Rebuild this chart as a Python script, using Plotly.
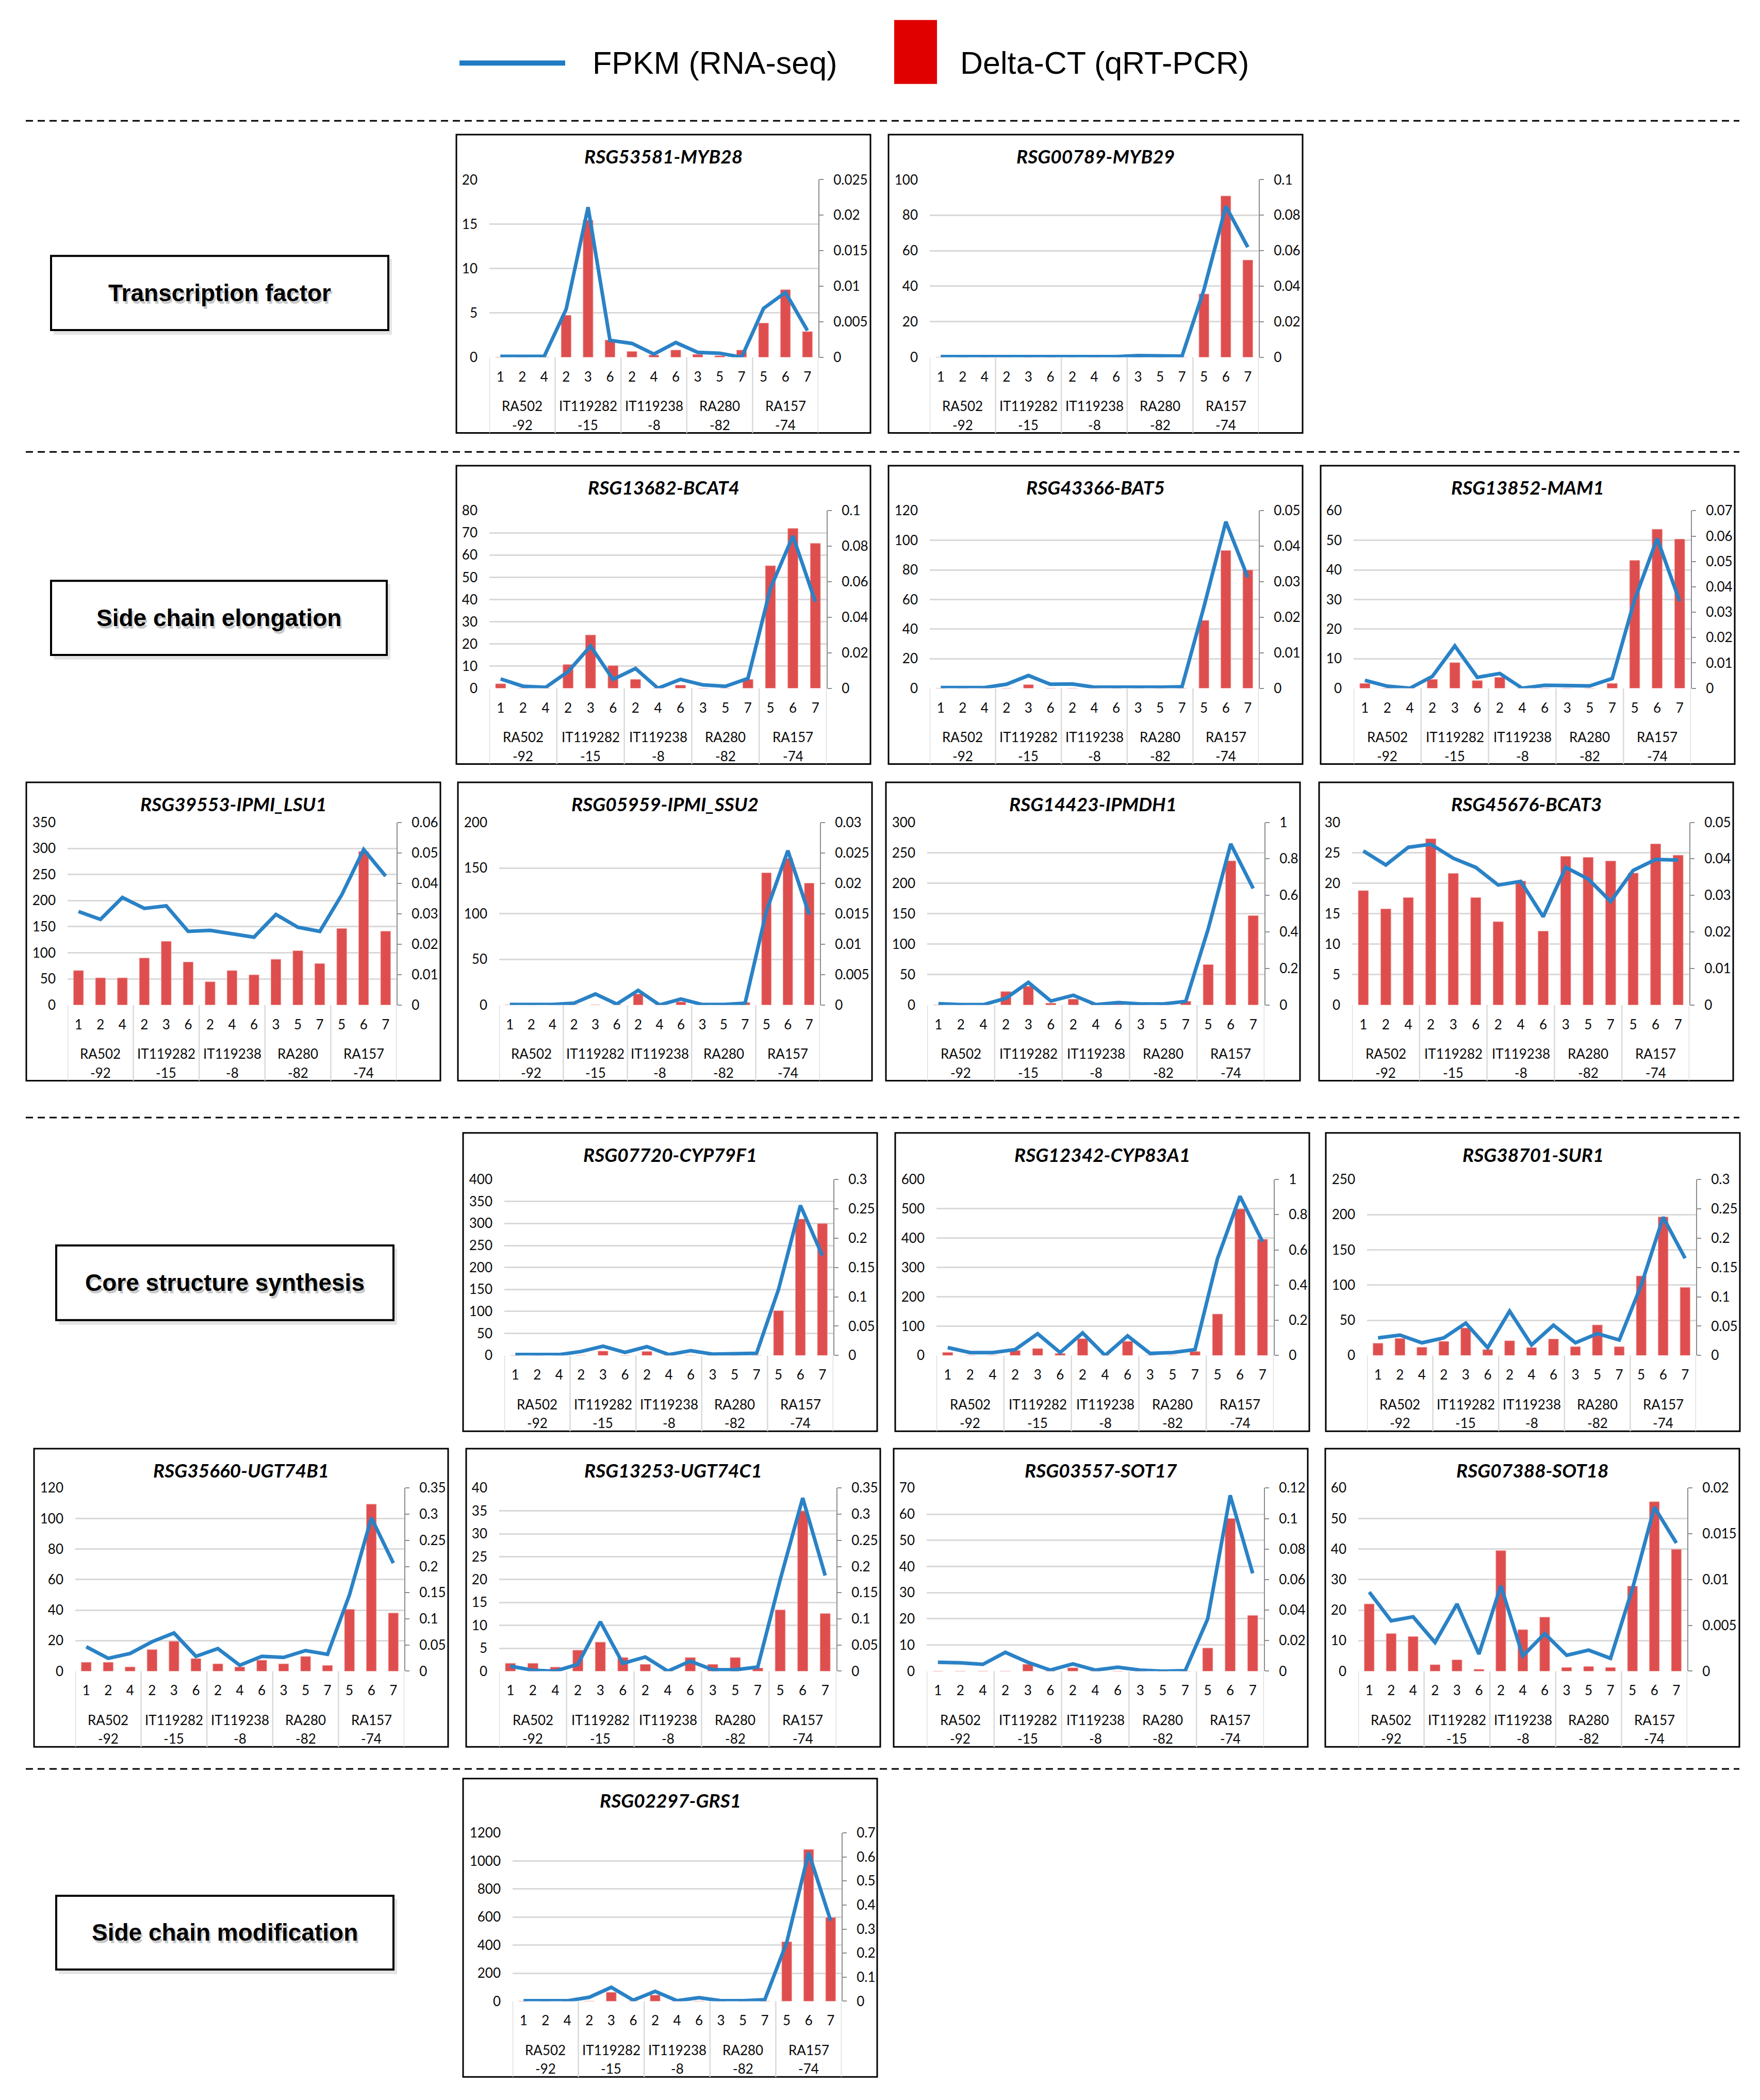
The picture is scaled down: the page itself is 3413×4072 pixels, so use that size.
import plotly.graph_objects as go

W, H = 3413, 4072

# ---------------- data ----------------
samples = ["1", "2", "4", "2", "3", "6", "2", "4", "6", "3", "5", "7", "5", "6", "7"]
group_names = ["RA502", "IT119282", "IT119238", "RA280", "RA157"]
group_codes = ["-92", "-15", "-8", "-82", "-74"]
group_size = 3

legend_line_label = "FPKM (RNA-seq)"
legend_bar_label = "Delta-CT (qRT-PCR)"
section_labels = ["Transcription factor", "Side chain elongation",
                  "Core structure synthesis", "Side chain modification"]

titles = ["RSG53581-MYB28", "RSG00789-MYB29",
          "RSG13682-BCAT4", "RSG43366-BAT5", "RSG13852-MAM1",
          "RSG39553-IPMI_LSU1", "RSG05959-IPMI_SSU2", "RSG14423-IPMDH1", "RSG45676-BCAT3",
          "RSG07720-CYP79F1", "RSG12342-CYP83A1", "RSG38701-SUR1",
          "RSG35660-UGT74B1", "RSG13253-UGT74C1", "RSG03557-SOT17", "RSG07388-SOT18",
          "RSG02297-GRS1"]

fpkm_myb28 = [0.1, 0.1, 0.1, 5.4, 16.9, 1.9, 1.55, 0.35, 1.65, 0.55, 0.45, 0.0, 5.5, 7.3, 3.0]
dct_myb28 = [0, 0, 0, 0.0059, 0.0193, 0.0024, 0.0008, 0.0003, 0.001, 0.0004, 0.0002, 0.001, 0.0048, 0.0095, 0.0036]
fpkm_myb29 = [0.3, 0.3, 0.3, 0.4, 0.4, 0.4, 0.3, 0.3, 0.3, 0.9, 0.8, 0.6, 38, 85, 62]
dct_myb29 = [0, 0, 0, 0, 0, 0, 0, 0, 0, 0, 0, 0, 0.0356, 0.0908, 0.0547]
fpkm_bcat4 = [4.2, 0.9, 0.4, 7.5, 19, 4, 8.9, 0, 4, 1.5, 0.9, 4.4, 45, 68.6, 39]
dct_bcat4 = [0.0025, 0, 0, 0.0133, 0.030, 0.0127, 0.005, 0, 0.0017, 0, 0, 0.005, 0.069, 0.090, 0.0816]
fpkm_bat5 = [0.5, 0.5, 0.5, 2.7, 8.6, 2.7, 2.9, 0.7, 1.0, 0.7, 0.7, 1.0, 55, 112.6, 75]
dct_bat5 = [0, 0, 0, 0, 0.001, 0, 0, 0, 0, 0, 0, 0, 0.0191, 0.0388, 0.0333]
fpkm_mam1 = [2.7, 0.7, 0, 4, 14.3, 3.7, 5, 0, 1, 1, 0.8, 3.3, 30, 50.6, 29.4]
dct_mam1 = [0.0019, 0, 0, 0.0035, 0.0101, 0.003, 0.0043, 0, 0, 0, 0, 0.0019, 0.0504, 0.0627, 0.0588]
fpkm_lsu1 = [179, 164, 206, 185, 190, 141, 143, 136, 130, 173.5, 149, 141, 211, 298, 247]
dct_lsu1 = [0.0113, 0.0089, 0.0089, 0.0154, 0.0209, 0.0141, 0.0076, 0.0113, 0.0099, 0.015, 0.0178, 0.0136, 0.0251, 0.0504, 0.0242]
fpkm_ssu2 = [0.5, 0.5, 0.5, 2, 12, 1, 16, 0, 6.5, 0.5, 0.5, 2, 103, 169, 99]
dct_ssu2 = [0, 0, 0, 0, 0, 0, 0.0018, 0, 0.0005, 0, 0, 0.0004, 0.0217, 0.0241, 0.020]
fpkm_ipmdh1 = [2, 0.5, 0.5, 11, 37, 6.5, 16, 0.6, 4, 1.6, 1.6, 6, 125, 264.5, 191.4]
dct_ipmdh1 = [0, 0, 0, 0.073, 0.102, 0.01, 0.032, 0.005, 0.005, 0.005, 0.005, 0.02, 0.221, 0.789, 0.489]
fpkm_bcat3 = [25.3, 23, 25.9, 26.4, 24.1, 22.6, 19.7, 20.3, 14.5, 22.6, 20.7, 17, 22.1, 23.9, 23.8]
dct_bcat3 = [0.0313, 0.0263, 0.0294, 0.0455, 0.036, 0.0294, 0.0228, 0.0339, 0.0202, 0.0407, 0.0404, 0.0394, 0.0361, 0.0441, 0.041]
fpkm_cyp79f1 = [2, 2, 2, 9, 21, 7, 20, 2, 11, 3, 3, 5, 150, 341, 227]
dct_cyp79f1 = [0, 0, 0, 0, 0.0074, 0, 0.0067, 0, 0, 0, 0, 0, 0.0763, 0.2324, 0.2247]
fpkm_cyp83a1 = [27, 10, 10, 20, 74, 10, 77, 0, 67, 7, 10, 20, 330, 543, 388]
dct_cyp83a1 = [0.017, 0, 0, 0.028, 0.039, 0.011, 0.095, 0, 0.08, 0, 0, 0.022, 0.235, 0.832, 0.66]
fpkm_sur1 = [25, 29, 18, 25, 46, 11, 63, 15, 43, 18, 31, 22, 100, 196.5, 138]
dct_sur1 = [0.0207, 0.029, 0.014, 0.024, 0.0468, 0.01, 0.025, 0.0134, 0.028, 0.015, 0.052, 0.015, 0.1355, 0.236, 0.116]
fpkm_ugt74b1 = [16, 8.4, 11.6, 19.3, 25, 9.7, 14.8, 3.9, 9.7, 9, 13.5, 11, 50, 100.4, 70.8]
dct_ugt74b1 = [0.0169, 0.0169, 0.008, 0.041, 0.057, 0.024, 0.014, 0.008, 0.021, 0.014, 0.028, 0.011, 0.118, 0.319, 0.111]
fpkm_ugt74c1 = [1.1, 0.2, 0, 1.5, 10.8, 1.7, 3.1, 0, 2.2, 0.3, 0.3, 0.9, 20, 37.8, 20.9]
dct_ugt74c1 = [0.015, 0.015, 0.0076, 0.04, 0.0555, 0.026, 0.013, 0, 0.026, 0.013, 0.026, 0.006, 0.117, 0.306, 0.11]
fpkm_sot17 = [3.4, 3.2, 2.6, 7.2, 3.4, 0.4, 2.8, 0.4, 1.5, 0.4, 0, 0.2, 20, 67.2, 37.4]
dct_sot17 = [0, 0, 0, 0, 0.0045, 0, 0.0022, 0, 0, 0, 0, 0, 0.0151, 0.1, 0.0365]
fpkm_sot18 = [25.9, 16.5, 17.8, 9.4, 22, 5.6, 28, 5, 12.3, 5.2, 6.9, 4.2, 27, 53.7, 42]
dct_sot18 = [0.00734, 0.0041, 0.00378, 0.0007, 0.00123, 0.0002, 0.01316, 0.00453, 0.00589, 0.0004, 0.0005, 0.0004, 0.00928, 0.0185, 0.0133]
fpkm_grs1 = [3, 3, 3, 28, 99, 7, 70, 3, 25, 3, 3, 11, 420, 1060, 574]
dct_grs1 = [0, 0, 0, 0, 0.037, 0, 0.025, 0, 0, 0, 0, 0, 0.247, 0.631, 0.348]

fpkm_all = [fpkm_myb28, fpkm_myb29, fpkm_bcat4, fpkm_bat5, fpkm_mam1, fpkm_lsu1, fpkm_ssu2,
            fpkm_ipmdh1, fpkm_bcat3, fpkm_cyp79f1, fpkm_cyp83a1, fpkm_sur1, fpkm_ugt74b1,
            fpkm_ugt74c1, fpkm_sot17, fpkm_sot18, fpkm_grs1]
dct_all = [dct_myb28, dct_myb29, dct_bcat4, dct_bat5, dct_mam1, dct_lsu1, dct_ssu2,
           dct_ipmdh1, dct_bcat3, dct_cyp79f1, dct_cyp83a1, dct_sur1, dct_ugt74b1,
           dct_ugt74c1, dct_sot17, dct_sot18, dct_grs1]

# axis tick settings (left max, left step, right max, right step)
left_max = [20, 100, 80, 120, 60, 350, 200, 300, 30, 400, 600, 250, 120, 40, 70, 60, 1200]
left_step = [5, 20, 10, 20, 10, 50, 50, 50, 5, 50, 100, 50, 20, 5, 10, 10, 200]
right_max = [0.025, 0.1, 0.1, 0.05, 0.07, 0.06, 0.03, 1, 0.05, 0.3, 1, 0.3, 0.35, 0.35, 0.12, 0.02, 0.7]
right_step = [0.005, 0.02, 0.02, 0.01, 0.01, 0.01, 0.005, 0.2, 0.01, 0.05, 0.2, 0.05, 0.05, 0.05, 0.02, 0.005, 0.1]

# ---------------- layout (pixels) ----------------
frames = [(885, 246, 88), (1723, 246, 88),
          (885, 893, 88), (1723, 893, 88), (2561, 893, 88),
          (51, 1512, 78), (888, 1512, 78), (1718, 1512, 78), (2558, 1512, 78),
          (898, 2197, 91), (1736, 2197, 91), (2571, 2197, 91),
          (66, 2814, 77), (904, 2814, 77), (1733, 2814, 77), (2570, 2814, 77),
          (898, 3459, 106)]
PW, PH = 803, 583
ZERO_OFF = 435

BAR = "#DF4E4E"
LINE = "#2A82C6"
GRID = "#D9D9D9"
AXC = "#8C8C8C"
FONT = "Lato"
ARIAL = "Liberation Sans, Arial, sans-serif"
TICK_SIZE = 26


def px(x):
    return x / W


def py(y):
    return 1 - y / H


fig = go.Figure()
layout = dict(width=W, height=H, margin=dict(l=0, r=0, t=0, b=0),
              paper_bgcolor="white", plot_bgcolor="rgba(0,0,0,0)",
              showlegend=False, bargap=0.55)
shapes = []
annotations = []

xs = list(range(len(samples)))
n_groups = len(group_names)
tfont = dict(family=FONT, size=TICK_SIZE, color="#0A0A0A")

for i in range(len(titles)):
    x0, y0, toff = frames[i]
    n = i + 1
    xa = "x" if n == 1 else f"x{n}"
    yb_id, yl_id = 2 * i + 1, 2 * i + 2
    yb = "y" if yb_id == 1 else f"y{yb_id}"
    yl = f"y{yl_id}"

    nr = int(round(right_max[i] / right_step[i]))
    rlabels = [f"{round(k * right_step[i], 6):g}" for k in range(nr + 1)]
    rlen = max(len(s) for s in rlabels)
    llen = len(str(left_max[i]))
    pl = x0 + 32 + 16 * llen
    pr = x0 + 782 - 16 * rlen
    ptop = y0 + toff
    pbot = y0 + ZERO_OFF

    fig.add_trace(go.Bar(x=xs, y=dct_all[i], xaxis=xa, yaxis=yb,
                         marker=dict(color=BAR, line=dict(width=1, color="#EE9A9A")),
                         hoverinfo="skip"))
    fig.add_trace(go.Scatter(x=xs, y=fpkm_all[i], xaxis=xa, yaxis=yl, mode="lines",
                             line=dict(color=LINE, width=7), hoverinfo="skip"))

    layout["xaxis" + ("" if n == 1 else str(n))] = dict(
        domain=[px(pl), px(pr)], anchor=yb, range=[-0.5, len(samples) - 0.5],
        tickmode="array", tickvals=xs, ticktext=samples, showgrid=False,
        zeroline=False, showline=False, ticks="", ticklabelstandoff=20,
        tickfont=tfont, fixedrange=True)
    layout["yaxis" + ("" if yb_id == 1 else str(yb_id))] = dict(
        domain=[py(pbot), py(ptop)], anchor=xa, side="right",
        range=[0, right_max[i] * 1.0001], tickmode="array",
        tickvals=[k * right_step[i] for k in range(nr + 1)], ticktext=rlabels,
        showgrid=False, zeroline=False, showline=True, linecolor=AXC, linewidth=2,
        ticks="outside", ticklen=8, tickcolor=AXC, tickwidth=2, ticklabelstandoff=14,
        tickfont=tfont, fixedrange=True)
    layout["yaxis" + str(yl_id)] = dict(
        overlaying=yb, side="left", anchor=xa, range=[0, left_max[i] * 1.0001],
        tickmode="linear", tick0=0, dtick=left_step[i], showgrid=True,
        gridcolor=GRID, gridwidth=3, zeroline=False, showline=False, ticks="",
        ticklabelstandoff=22, tickfont=tfont, fixedrange=True)

    # panel frame
    shapes.append(dict(type="rect", xref="paper", yref="paper",
                       x0=px(x0), x1=px(x0 + PW), y0=py(y0 + PH), y1=py(y0),
                       line=dict(color="black", width=3), fillcolor="rgba(0,0,0,0)", layer="above"))
    # title
    annotations.append(dict(text=titles[i], xref="paper", yref="paper",
                            x=px(x0 + PW / 2), y=py(y0 + 42), showarrow=False,
                            xanchor="center", yanchor="middle",
                            font=dict(family=FONT, size=37, color="black",
                                      weight="bold", style="italic")))
    # group separators
    for g in range(n_groups + 1):
        bx = g * group_size - 0.5
        shapes.append(dict(type="line", xref=xa, yref="paper", x0=bx, x1=bx,
                           y0=py(y0 + PH), y1=py(pbot),
                           line=dict(color=GRID, width=2.5)))
    # group labels
    for g in range(n_groups):
        cx = sum(xs[g * group_size:(g + 1) * group_size]) / group_size
        annotations.append(dict(text=group_names[g], xref=xa, yref="paper", x=cx,
                                y=py(y0 + 530), showarrow=False, xanchor="center",
                                yanchor="middle", font=tfont))
        annotations.append(dict(text=group_codes[g], xref=xa, yref="paper", x=cx,
                                y=py(y0 + 567), showarrow=False, xanchor="center",
                                yanchor="middle", font=tfont))

# dashed separators
for yd in [219, 866, 2167, 3440]:
    shapes.append(dict(type="line", xref="paper", yref="paper", x0=px(50), x1=px(3373),
                       y0=py(yd), y1=py(yd), line=dict(color="black", width=3, dash="14px,9px")))

# section label boxes
boxes = [(99, 483, 753, 628), (99, 1118, 750, 1263), (109, 2417, 763, 2563), (109, 3688, 763, 3832)]
for (bx0, by0, bx1, by1), lab in zip(boxes, section_labels):
    shapes.append(dict(type="rect", xref="paper", yref="paper",
                       x0=px(bx0 + 5), x1=px(bx1 + 7), y0=py(by1 + 9), y1=py(by0 + 6),
                       line=dict(width=0), fillcolor="#E4E4E4", layer="below"))
    shapes.append(dict(type="rect", xref="paper", yref="paper",
                       x0=px(bx0), x1=px(bx1), y0=py(by1), y1=py(by0),
                       line=dict(color="black", width=4), fillcolor="white", layer="below"))
    cxp, cyp = (bx0 + bx1) / 2, (by0 + by1) / 2
    annotations.append(dict(text="<b>" + lab + "</b>", xref="paper", yref="paper",
                            x=px(cxp + 3), y=py(cyp + 5), showarrow=False,
                            xanchor="center", yanchor="middle",
                            font=dict(family=ARIAL, size=46, color="#C9C9C9")))
    annotations.append(dict(text="<b>" + lab + "</b>", xref="paper", yref="paper",
                            x=px(cxp), y=py(cyp), showarrow=False,
                            xanchor="center", yanchor="middle",
                            font=dict(family=ARIAL, size=46, color="black")))

# legend
shapes.append(dict(type="line", xref="paper", yref="paper", x0=px(891), x1=px(1096),
                   y0=py(106), y1=py(106), line=dict(color="#1E7BC4", width=10)))
shapes.append(dict(type="rect", xref="paper", yref="paper", x0=px(1734), x1=px(1817),
                   y0=py(147), y1=py(22), line=dict(width=0), fillcolor="#E00000"))
annotations.append(dict(text=legend_line_label, xref="paper", yref="paper", x=px(1147),
                        y=py(106), xanchor="left", yanchor="middle", showarrow=False,
                        font=dict(family=ARIAL, size=61, color="black")))
annotations.append(dict(text=legend_bar_label, xref="paper", yref="paper", x=px(1860),
                        y=py(106), xanchor="left", yanchor="middle", showarrow=False,
                        font=dict(family=ARIAL, size=61, color="black")))

layout["shapes"] = shapes
layout["annotations"] = annotations
fig.update_layout(**layout)
fig.write_html("out.html", config={"displayModeBar": False},
               post_script="document.body.style.margin='0';")
